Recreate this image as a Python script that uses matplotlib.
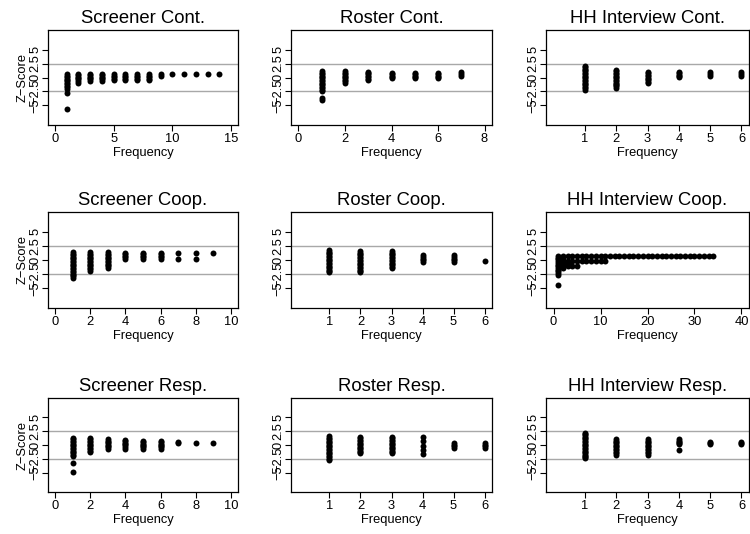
import numpy as np
import matplotlib
matplotlib.use("Agg")
import matplotlib.pyplot as plt

plt.rcParams['font.family'] = ['Liberation Sans', 'DejaVu Sans']

###############################################################################
# Z-scores by frequency
screener_cont = {
    1: [0.55, 0.3, 0.05, -0.2, -0.45, -0.7, -0.95, -1.2, -1.45, -1.75, -2.1, -2.75, -5.7],
    2: [0.65, 0.4, 0.15, -0.1, -0.35, -0.6, -0.9],
    3: [0.65, 0.4, 0.15, -0.1, -0.3, -0.55],
    4: [0.65, 0.4, 0.15, -0.1, -0.3, -0.55],
    5: [0.55, 0.3, 0.05, -0.2, -0.4],
    6: [0.55, 0.3, 0.05, -0.2, -0.4],
    7: [0.55, 0.3, 0.05, -0.2, -0.4],
    8: [0.55, 0.3, 0.05, -0.2, -0.4],
    9: [0.55, 0.25],
    10: [0.55], 11: [0.6], 12: [0.6], 13: [0.6], 14: [0.6],
}
roster_cont = {
    1: [1.1, 0.85, 0.6, 0.35, 0.1, -0.15, -0.4, -0.65, -0.9, -1.15, -1.4, -1.65,
        -1.9, -2.15, -2.4, -3.6, -3.95],
    2: [1.1, 0.85, 0.6, 0.35, 0.1, -0.15, -0.4, -0.65, -0.95],
    3: [1.05, 0.8, 0.55, 0.3, 0.05, -0.2, -0.4],
    4: [0.85, 0.6, 0.35, 0.1, -0.15],
    5: [0.85, 0.6, 0.35, 0.1, -0.15],
    6: [0.85, 0.6, 0.35, 0.1, -0.15],
    7: [0.9, 0.6, 0.25],
}
hh_cont = {
    1: [2.1, 1.85, 1.6, 1.35, 1.1, 0.85, 0.6, 0.35, 0.1, -0.15, -0.4, -0.65,
        -0.9, -1.15, -1.4, -1.65, -1.9, -2.2],
    2: [1.35, 1.1, 0.85, 0.6, 0.35, 0.1, -0.15, -0.4, -0.65, -0.9, -1.15, -1.4,
        -1.6, -1.85],
    3: [1.0, 0.75, 0.5, 0.25, 0.0, -0.25, -0.5, -0.75, -1.05],
    4: [1.0, 0.75, 0.5, 0.25, 0.05],
    5: [1.0, 0.65, 0.25],
    6: [1.0, 0.6, 0.25],
}
screener_coop = {
    1: [1.35, 1.1, 0.85, 0.6, 0.35, 0.1, -0.15, -0.4, -0.65, -0.9, -1.15, -1.4,
        -1.65, -1.9, -2.15, -2.4, -2.65, -2.9, -3.25],
    2: [1.35, 1.1, 0.85, 0.6, 0.35, 0.1, -0.15, -0.4, -0.65, -0.9, -1.15, -1.4,
        -1.65, -1.95],
    3: [1.35, 1.1, 0.85, 0.6, 0.35, 0.1, -0.15, -0.4, -0.65, -0.9, -1.15, -1.5],
    4: [1.25, 1.0, 0.7, 0.45, 0.2],
    5: [1.25, 1.0, 0.7, 0.45, 0.2],
    6: [1.25, 1.0, 0.7, 0.45, 0.2],
    7: [1.25, 0.2],
    8: [1.25, 0.2],
    9: [1.25],
}
roster_coop = {
    1: [1.75, 1.5, 1.25, 1.0, 0.75, 0.5, 0.25, 0.0, -0.25, -0.5, -0.75, -1.0,
        -1.25, -1.5, -1.75, -2.0, -2.2],
    2: [1.55, 1.3, 1.05, 0.8, 0.55, 0.3, 0.05, -0.2, -0.45, -0.7, -0.95, -1.2,
        -1.45, -1.7, -1.9, -2.1],
    3: [1.55, 1.3, 1.05, 0.8, 0.55, 0.3, 0.05, -0.2, -0.45, -0.7, -0.95, -1.2, -1.5],
    4: [0.85, 0.55, 0.25, -0.05, -0.3],
    5: [0.85, 0.55, 0.25, -0.05, -0.3],
    6: [-0.2],
}
hh_coop = {
    1: [0.65, 0.4, 0.1, -0.2, -0.5, -0.8, -1.1, -1.4, -1.7, -2.0, -2.3, -2.7, -4.4],
    2: [0.65, 0.2, -0.2, -0.7, -1.1, -1.5],
    3: [0.65, -0.2, -0.7, -1.1],
    4: [0.65, -0.2, -1.1],
    5: [0.65, -0.2, -1.1],
    6: [0.65, -0.2], 7: [0.65, -0.2], 8: [0.65, -0.2],
    9: [0.65, -0.2], 10: [0.65, -0.2], 11: [0.65, -0.2],
    12: [0.65], 13: [0.65], 14: [0.65], 15: [0.65], 16: [0.65], 17: [0.65],
    18: [0.65], 19: [0.65], 20: [0.65], 21: [0.65], 22: [0.65], 23: [0.65],
    24: [0.65], 25: [0.65], 26: [0.65], 27: [0.65], 28: [0.65], 29: [0.65],
    30: [0.65], 31: [0.65], 32: [0.65], 33: [0.65], 34: [0.65],
}
screener_resp = {
    1: [1.25, 1.0, 0.75, 0.5, 0.25, 0.0, -0.25, -0.5, -0.75, -1.0, -1.25, -1.5,
        -1.75, -2.05, -3.2, -4.9],
    2: [1.25, 1.0, 0.75, 0.5, 0.25, 0.0, -0.25, -0.5, -0.75, -1.0, -1.3],
    3: [1.05, 0.8, 0.55, 0.3, 0.05, -0.2, -0.45, -0.7],
    4: [0.95, 0.7, 0.45, 0.2, -0.05, -0.3, -0.7],
    5: [0.75, 0.5, 0.25, 0.0, -0.25, -0.45, -0.7],
    6: [0.75, 0.5, 0.25, 0.0, -0.25, -0.45, -0.7],
    7: [0.6, 0.3],
    8: [0.35],
    9: [0.35],
}
roster_resp = {
    1: [1.55, 1.3, 1.05, 0.8, 0.55, 0.3, 0.05, -0.2, -0.45, -0.7, -0.95, -1.2,
        -1.45, -1.7, -1.95, -2.2, -2.45, -2.75],
    2: [1.45, 1.2, 0.95, 0.7, 0.45, 0.2, -0.05, -0.3, -0.55, -0.8, -1.05, -1.3, -1.5],
    3: [1.45, 1.2, 0.95, 0.7, 0.45, 0.2, -0.05, -0.3, -0.55, -0.8, -1.05, -1.3, -1.5],
    4: [1.5, 0.65, -0.1, -0.9, -1.6],
    5: [0.35, 0.05, -0.2, -0.5],
    6: [0.35, 0.05, -0.2, -0.5],
}
hh_resp = {
    1: [2.25, 2.0, 1.75, 1.5, 1.25, 1.0, 0.75, 0.5, 0.25, 0.0, -0.25, -0.5,
        -0.75, -1.0, -1.25, -1.5, -1.75, -2.0, -2.2, -2.4],
    2: [1.05, 0.8, 0.55, 0.3, 0.05, -0.2, -0.45, -0.7, -0.95, -1.2, -1.5, -1.8],
    3: [1.05, 0.8, 0.55, 0.3, 0.05, -0.2, -0.45, -0.7, -0.95, -1.2, -1.5, -1.8],
    4: [1.05, 0.8, 0.55, 0.3, 0.1, -0.9],
    5: [0.6, 0.35, 0.1],
    6: [0.6, 0.35, 0.1],
}

panels = [screener_cont, roster_cont, hh_cont,
          screener_coop, roster_coop, hh_coop,
          screener_resp, roster_resp, hh_resp]
titles = ["Screener Cont.", "Roster Cont.", "HH Interview Cont.",
          "Screener Coop.", "Roster Coop.", "HH Interview Coop.",
          "Screener Resp.", "Roster Resp.", "HH Interview Resp."]
x_ranges = [(0, 15), (0, 8), (0, 6),
            (0, 10), (0, 6), (0, 40),
            (0, 10), (0, 6), (0, 6)]
x_ticks = [[0, 5, 10, 15], [0, 2, 4, 6, 8], [1, 2, 3, 4, 5, 6],
           [0, 2, 4, 6, 8, 10], [1, 2, 3, 4, 5, 6], [0, 10, 20, 30, 40],
           [0, 2, 4, 6, 8, 10], [1, 2, 3, 4, 5, 6], [1, 2, 3, 4, 5, 6]]
y_ticks = [-5, -2.5, 0, 2.5, 5]
y_labels = ["\u22125", "\u22122.5", "0", "2.5", "5"]
ref_lines = [-2.5, 2.5]

###############################################################################
W, H = 750, 534
fig = plt.figure(figsize=(W / 100, H / 100), dpi=100)

# box edges in pixels
cols = [(48, 238), (291, 492), (546, 749)]
rows = [(30, 125), (212, 308), (398, 492)]

for i, data in enumerate(panels):
    r, c = divmod(i, 3)
    l, rr = cols[c]
    t, b = rows[r]
    ax = fig.add_axes([l / W, 1 - b / H, (rr - l) / W, (b - t) / H])

    xs, ys = [], []
    for f, zs in data.items():
        xs += [f] * len(zs)
        ys += zs
    ax.plot(xs, ys, 'o', color='black', ms=4.3, mew=0, zorder=3)

    for y in ref_lines:
        ax.axhline(y, color='#a8a8a8', lw=1.0, zorder=1)

    lo, hi = x_ranges[i]
    pad = 0.04 * (hi - lo)
    ax.set_xlim(lo - pad, hi + pad)
    ax.set_ylim(-8.5, 8.5)
    ax.set_xticks(x_ticks[i])
    ax.set_yticks(y_ticks)
    ax.set_yticklabels(y_labels, rotation=90, va='center')
    ax.tick_params(axis='x', length=4, width=0.8, labelsize=9.3, pad=1.5, colors='black')
    ax.tick_params(axis='y', length=4, width=0.8, labelsize=9.3, pad=0.5, colors='black')
    for s in ax.spines.values():
        s.set_linewidth(0.9)

    ax.set_title(titles[i], fontsize=13.3, pad=5)
    ax.set_xlabel('Frequency', fontsize=9.3, labelpad=1.5)
    if c == 0:
        ax.set_ylabel('Z\u2212Score', fontsize=9.3, labelpad=1)

fig.savefig('out.png', dpi=100)
